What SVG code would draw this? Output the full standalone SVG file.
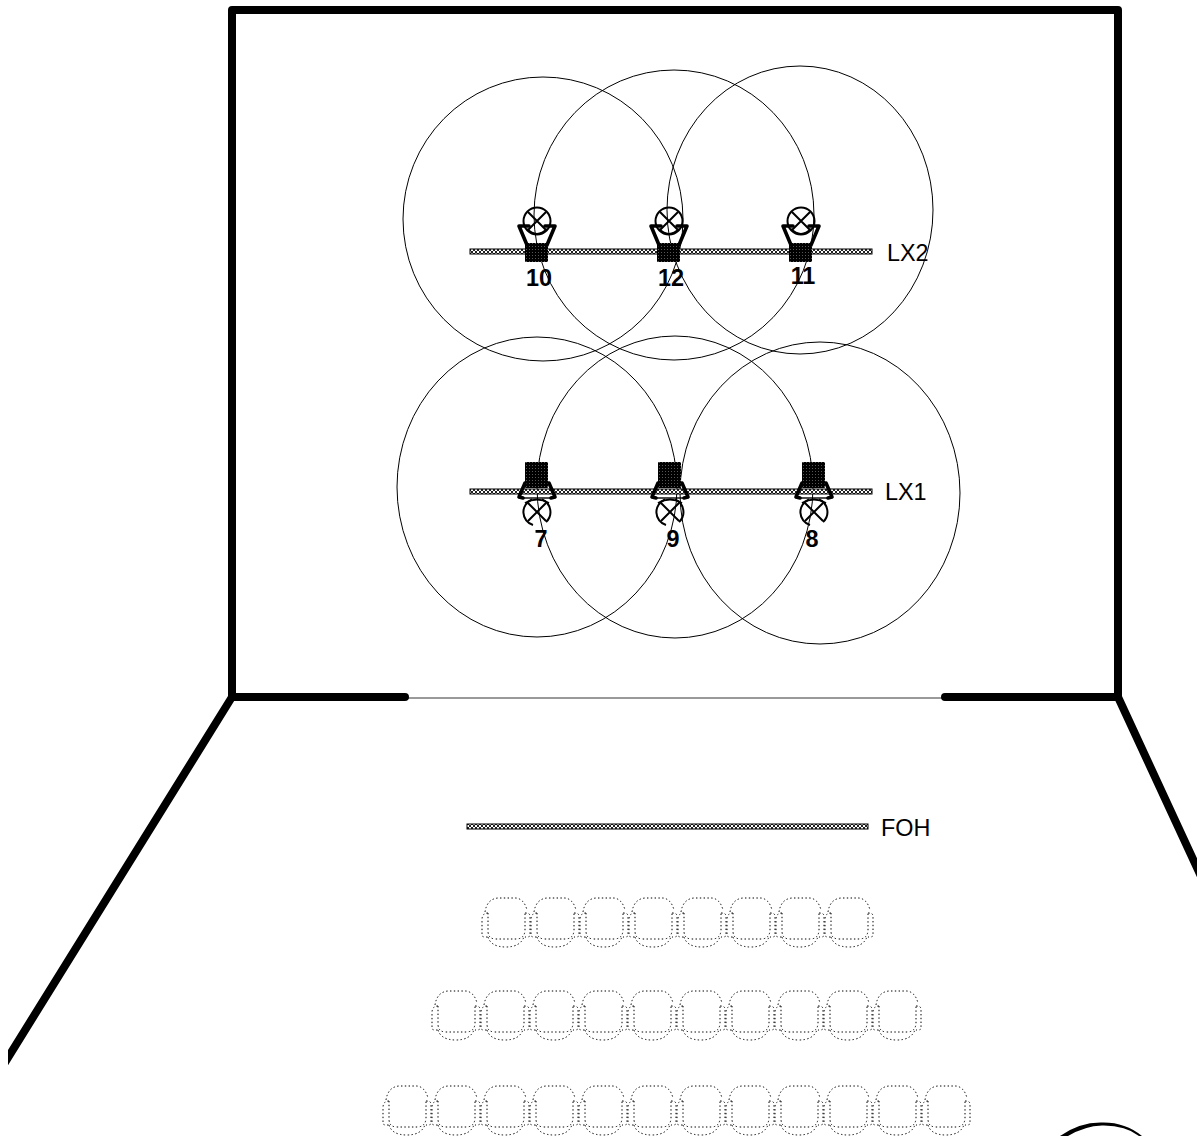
<svg xmlns="http://www.w3.org/2000/svg" width="1197" height="1136" viewBox="0 0 1197 1136">
<style>
.wall{fill:none;stroke:#000;stroke-width:8;stroke-linecap:round;stroke-linejoin:round}
.beam{fill:none;stroke:#000;stroke-width:1}
.bar{fill:url(#hatch);stroke:#000;stroke-width:1}
.seat{fill:none;stroke:#000;stroke-width:1;stroke-dasharray:1.4 2.4}
.lbl{font-family:"Liberation Sans",Arial,sans-serif;font-size:23.4px;fill:#000}
.num{font-family:"Liberation Sans",Arial,sans-serif;font-size:23.4px;font-weight:bold;fill:#000}
.y{fill:none;stroke:#000;stroke-width:3.6;stroke-linejoin:round;stroke-linecap:round}
.c{fill:none;stroke:#000;stroke-width:2}
.t{fill:none;stroke:#000;stroke-width:1.4}
</style>
<defs>
<pattern id="hatch" width="4" height="4" patternUnits="userSpaceOnUse"><rect width="4" height="4" fill="#fff"/><path d="M0 0L2 2L4 0M0 4L2 2L4 4" stroke="#222" stroke-width="1" fill="none"/></pattern>
<pattern id="dots" width="3" height="3" patternUnits="userSpaceOnUse"><rect width="3" height="3" fill="#000"/><rect x="1" y="1" width="1" height="1" fill="#555"/></pattern>
<clipPath id="page"><rect x="8" y="0" width="1189" height="1136"/></clipPath>
<g id="seat">
<path class="seat" d="M3 14Q5 1 16 0H34Q42 1 45 12"/>
<path class="seat" d="M6 15V33Q6 41 14 41H34Q42 41 43 33V14"/>
<path class="seat" d="M6 15Q0 15 0 22V37Q0 39 3 39H6"/>
<path class="seat" d="M43 15Q48 15 48 18V37Q48 39 45 39H43"/>
<path class="seat" d="M6 39Q9 49 24 49Q38 49 42 39"/>
</g>
<g id="lampUp">
<rect x="-12" y="-8" width="23" height="19" rx="1" fill="url(#dots)"/>
<circle cx="0" cy="-30" r="13.5" class="c"/>
<path class="c" d="M-9 -39L9 -21M9 -39L-9 -21"/>
<path class="y" d="M-8 -25H-18L-10 -6M8 -25H18L10 -6"/>
<path class="c" d="M-10 -22Q0 -12 10 -22"/>
</g>
<g id="lampDown">
<rect x="-12" y="-29" width="23" height="26" rx="1" fill="url(#dots)"/>
<path class="y" d="M-12 -8L-18 6L-14 7M12 -8L18 6L14 7"/>
<path class="t" d="M-14 7H14"/>
<path class="c" d="M-12 12Q0 5 12 12"/>
<path class="c" d="M-5 8.500A13.500 13.500 0 0 0 -4 34"/>
<path class="c" d="M5 8.500A13.500 13.500 0 0 1 9 31"/>
<path class="c" d="M-9 12L9 30M9 12L-9 30"/>
</g>
</defs>
<g id="connectors" clip-path="url(#page)">
<path class="wall" d="M405 697H232V10H1118V697H945"/>
<path class="wall" d="M232 697L4 1064"/>
<path class="wall" d="M1118 697L1205 885"/>
<path d="M407 698H945" stroke="#000" stroke-width="0.8" fill="none"/>
<path d="M1060 1136Q1080 1122 1102 1122.500Q1125 1122 1142 1136H1139Q1125 1125 1102 1125.500Q1085 1126 1068 1136Z" fill="#000"/>
</g>
<g id="beams">
<ellipse class="beam" cx="543" cy="219" rx="140" ry="142"/>
<ellipse class="beam" cx="674" cy="215" rx="140" ry="145"/>
<ellipse class="beam" cx="800" cy="210" rx="133" ry="144"/>
<ellipse class="beam" cx="537" cy="487" rx="140" ry="150"/>
<ellipse class="beam" cx="675" cy="487" rx="138" ry="151"/>
<ellipse class="beam" cx="820" cy="493" rx="140" ry="151"/>
</g>
<g id="bar-lx2"><rect class="bar" x="470" y="249" width="402" height="5"/><text class="lbl" x="887" y="261">LX2</text></g>
<g id="bar-lx1"><rect class="bar" x="470" y="489" width="402" height="5"/><text class="lbl" x="885" y="500">LX1</text></g>
<g id="bar-foh"><rect class="bar" x="467" y="824" width="401" height="5"/><text class="lbl" x="881" y="836">FOH</text></g>
<g id="lamp-10"><use href="#lampUp" x="537" y="251"/><text class="num" x="539" y="286" text-anchor="middle">10</text></g>
<g id="lamp-12"><use href="#lampUp" x="669" y="251"/><text class="num" x="671" y="286" text-anchor="middle">12</text></g>
<g id="lamp-11"><use href="#lampUp" x="801" y="251"/><text class="num" x="803" y="284" text-anchor="middle">11</text></g>
<g id="lamp-7"><use href="#lampDown" x="537" y="491"/><text class="num" x="541" y="547" text-anchor="middle">7</text></g>
<g id="lamp-9"><use href="#lampDown" x="670" y="491"/><text class="num" x="673" y="547" text-anchor="middle">9</text></g>
<g id="lamp-8"><use href="#lampDown" x="814" y="491"/><text class="num" x="812" y="547" text-anchor="middle">8</text></g>
<g id="seats-row1">
<use href="#seat" x="482" y="898"/><use href="#seat" x="531" y="898"/><use href="#seat" x="580" y="898"/><use href="#seat" x="629" y="898"/><use href="#seat" x="678" y="898"/><use href="#seat" x="727" y="898"/><use href="#seat" x="776" y="898"/><use href="#seat" x="825" y="898"/>
</g>
<g id="seats-row2">
<use href="#seat" x="432" y="991"/><use href="#seat" x="481" y="991"/><use href="#seat" x="530" y="991"/><use href="#seat" x="579" y="991"/><use href="#seat" x="628" y="991"/><use href="#seat" x="677" y="991"/><use href="#seat" x="726" y="991"/><use href="#seat" x="775" y="991"/><use href="#seat" x="824" y="991"/><use href="#seat" x="873" y="991"/>
</g>
<g id="seats-row3">
<use href="#seat" x="383" y="1086"/><use href="#seat" x="432" y="1086"/><use href="#seat" x="481" y="1086"/><use href="#seat" x="530" y="1086"/><use href="#seat" x="579" y="1086"/><use href="#seat" x="628" y="1086"/><use href="#seat" x="677" y="1086"/><use href="#seat" x="726" y="1086"/><use href="#seat" x="775" y="1086"/><use href="#seat" x="824" y="1086"/><use href="#seat" x="873" y="1086"/><use href="#seat" x="922" y="1086"/>
</g>
</svg>
